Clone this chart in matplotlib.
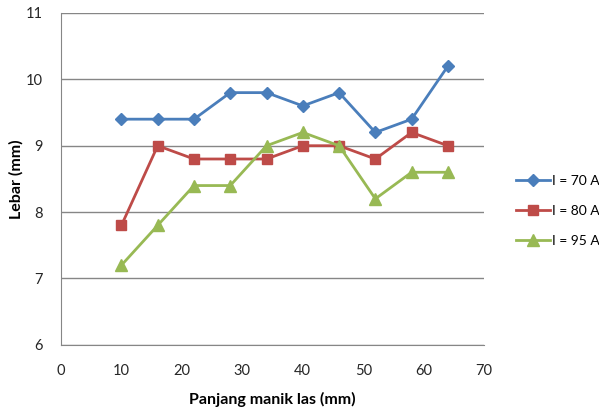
import matplotlib
matplotlib.use("Agg")
import matplotlib.pyplot as plt

plt.rcParams['font.family'] = ['Lato', 'DejaVu Sans']

panjang = [10, 16, 22, 28, 34, 40, 46, 52, 58, 64]
lebar_70 = [9.4, 9.4, 9.4, 9.8, 9.8, 9.6, 9.8, 9.2, 9.4, 10.2]
lebar_80 = [7.8, 9.0, 8.8, 8.8, 8.8, 9.0, 9.0, 8.8, 9.2, 9.0]
lebar_95 = [7.2, 7.8, 8.4, 8.4, 9.0, 9.2, 9.0, 8.2, 8.6, 8.6]
labels = ["I = 70 A", "I = 80 A", "I = 95 A"]
x_ticks = [0, 10, 20, 30, 40, 50, 60, 70]
y_ticks = [6, 7, 8, 9, 10, 11]

fig = plt.figure(figsize=(5.99, 4.12), dpi=100)
ax = fig.add_axes([0.1018, 0.163, 0.7065, 0.8055])

ax.plot(panjang, lebar_70, color="#4A7EBB", lw=2.0, marker="D", ms=6.5, label=labels[0])
ax.plot(panjang, lebar_80, color="#BE4B48", lw=2.0, marker="s", ms=7.5, label=labels[1])
ax.plot(panjang, lebar_95, color="#98B954", lw=2.0, marker="^", ms=8, label=labels[2])

ax.set_xlim(0, 70)
ax.set_ylim(6, 11)
ax.set_xticks(x_ticks)
ax.set_yticks(y_ticks)
ax.grid(axis="y", color="#868686", lw=1.0)
ax.set_axisbelow(True)
for s in ["top", "right"]:
    ax.spines[s].set_visible(False)
for s in ["left", "bottom"]:
    ax.spines[s].set_color("#868686")
ax.tick_params(axis="both", length=0, labelsize=10.5, colors="#262626")
ax.tick_params(axis="x", pad=14)
ax.tick_params(axis="y", pad=13)

ax.set_xlabel("Panjang manik las (mm)", fontsize=11.5, fontweight="bold", labelpad=10)
ax.set_ylabel("Lebar (mm)", fontsize=11.5, fontweight="bold", labelpad=2)

ax.legend(loc="center left", bbox_to_anchor=(0.862, 0.488),
          bbox_transform=fig.transFigure, frameon=False,
          fontsize=10, handlelength=2.4, handletextpad=0.15, labelspacing=1.3,
          borderaxespad=0, borderpad=0)

fig.savefig("out.png", dpi=100)
